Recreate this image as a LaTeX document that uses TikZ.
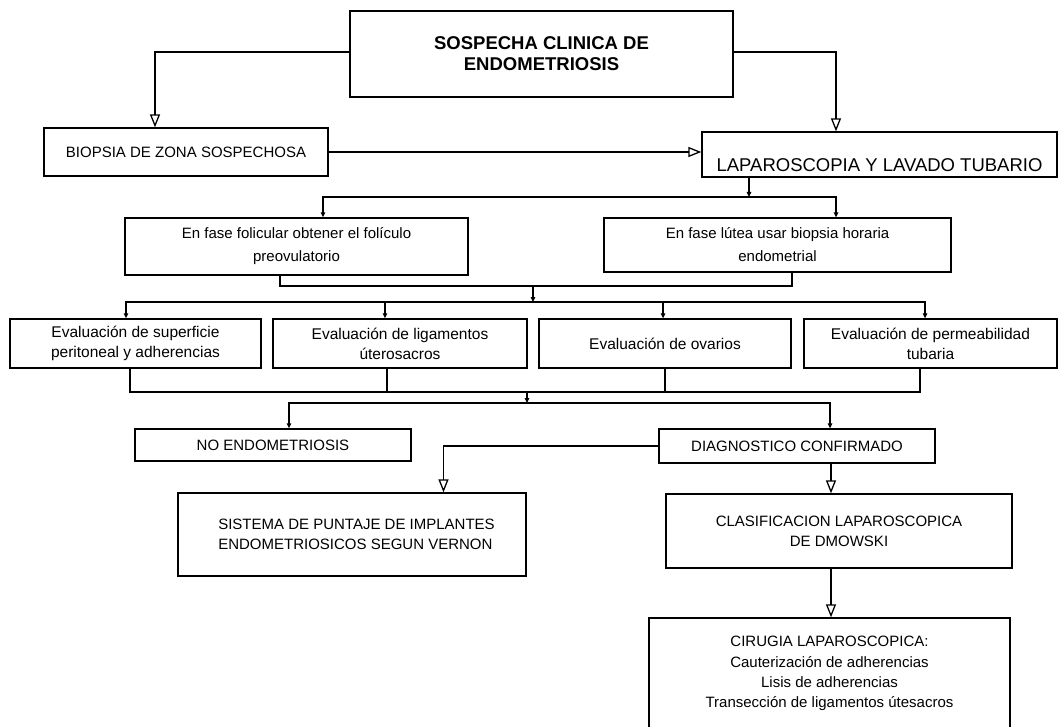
\documentclass[tikz,border=0pt]{standalone}
\usepackage{fontspec}
\setmainfont{Liberation Sans}
\usetikzlibrary{arrows.meta}
\begin{document}
\begin{tikzpicture}[x=1pt,y=-1pt,
  box/.style={draw, line width=1.3pt, inner sep=0pt, align=center, font=\fontsize{15}{20}\selectfont},
  evbox/.style={box, minimum height=49pt, font=\fontsize{15.5}{20}\selectfont},
  ln/.style={line width=1.2pt, line cap=rect},
  bigarr/.style={ln, -{Triangle[open, length=13pt, width=10pt, line width=1.3pt]}},
  smallarr/.style={ln, -{Triangle[length=5pt, width=4.5pt]}}
]
\useasboundingbox (0,0) rectangle (1059,727);

% nodes
\node[box, minimum width=383pt, minimum height=86pt, font=\bfseries\fontsize{18.5}{21}\selectfont] (title) at (541.5,54) {SOSPECHA CLINICA DE\\ENDOMETRIOSIS};
\node[box, minimum width=284pt, minimum height=48pt] (biop) at (186,152) {BIOPSIA DE ZONA SOSPECHOSA};
\node[box, minimum width=355pt, minimum height=45pt, font=\fontsize{18.5}{22}\selectfont] (lapar) at (879.5,154.5) {\raisebox{-17pt}[0pt][0pt]{LAPAROSCOPIA Y LAVADO TUBARIO}};
\node[box, minimum width=343pt, minimum height=57pt, font=\fontsize{15}{23}\selectfont] (folic) at (296.5,246.5) {En fase folicular obtener el folículo\\preovulatorio};
\node[box, minimum width=347pt, minimum height=54pt, font=\fontsize{15}{23}\selectfont] (lutea) at (777.5,245) {En fase lútea usar biopsia horaria\\endometrial};
\node[evbox, minimum width=251pt] (ev1) at (135.5,343.5) {Evaluación de superficie\\peritoneal y adherencias};
\node[evbox, minimum width=254pt] (ev2) at (400,343.5) {Evaluación de ligamentos\\úterosacros};
\node[evbox, minimum width=252pt] (ev3) at (665,343.5) {Evaluación de ovarios};
\node[evbox, minimum width=253pt] (ev4) at (930.5,343.5) {Evaluación de permeabilidad\\tubaria};
\node[box, minimum width=276pt, minimum height=32pt] (noendo) at (273,445) {NO ENDOMETRIOSIS};
\node[box, minimum width=276pt, minimum height=34pt] (diag) at (797,446) {DIAGNOSTICO CONFIRMADO};
\node[box, minimum width=348pt, minimum height=83pt, align=left] (sistema) at (352,534.5) {\hspace*{9pt}SISTEMA DE PUNTAJE DE IMPLANTES\\\hspace*{9pt}ENDOMETRIOSICOS SEGUN VERNON};
\node[box, minimum width=346pt, minimum height=74pt] (clasif) at (839,531) {CLASIFICACION LAPAROSCOPICA\\DE DMOWSKI};
\node[box, minimum width=361pt, minimum height=111pt, font=\fontsize{15}{20.3}\selectfont] (cirugia) at (829.5,673.5) {CIRUGIA LAPAROSCOPICA:\\Cauterización de adherencias\\Lisis de adherencias\\Transección de ligamentos útesacros};

% helper coordinates
\coordinate (yA) at (0,52);
\coordinate (yJ1) at (0,197);
\coordinate (yJ2) at (0,286);
\coordinate (yJ3) at (0,302);
\coordinate (yJ4) at (0,392);
\coordinate (yJ5) at (0,403);
\coordinate (xA) at (155,0);
\coordinate (xB) at (836,0);
\coordinate (xC) at (749,0);
\coordinate (xD) at (323,0);
\coordinate (xE) at (280,0);
\coordinate (xF) at (792,0);
\coordinate (xG) at (533,0);
\coordinate (xH1) at (126,0);
\coordinate (xH2) at (385,0);
\coordinate (xH3) at (663,0);
\coordinate (xH4) at (925,0);
\coordinate (xK1) at (130,0);
\coordinate (xK2) at (387,0);
\coordinate (xK3) at (665,0);
\coordinate (xK4) at (920,0);
\coordinate (xL) at (527,0);
\coordinate (xM1) at (289,0);
\coordinate (xM2) at (830,0);
\coordinate (xS) at (443.5,0);
\coordinate (xT) at (831,0);

% connectors
\draw[bigarr] (title.west |- yA) -| (biop.north -| xA);
\draw[bigarr] (title.east |- yA) -| (lapar.north -| xB);
\draw[bigarr] (biop.east) -- (biop.east -| lapar.west);

\draw[smallarr] (lapar.south -| xC) -- (xC |- yJ1);
\draw[smallarr] (xB |- yJ1) -| (folic.north -| xD);
\draw[smallarr] (xB |- yJ1) -- (lutea.north -| xB);

\draw[ln] (folic.south -| xE) |- (xF |- yJ2) -- (lutea.south -| xF);
\draw[smallarr] (xG |- yJ2) -- (xG |- yJ3);

\draw[smallarr] (xH2 |- yJ3) -| (ev1.north -| xH1);
\draw[smallarr] (xH3 |- yJ3) -| (ev4.north -| xH4);
\draw[ln] (xH2 |- yJ3) -- (xH3 |- yJ3);
\draw[smallarr] (xH2 |- yJ3) -- (ev2.north -| xH2);
\draw[smallarr] (xH3 |- yJ3) -- (ev3.north -| xH3);

\draw[ln] (ev1.south -| xK1) |- (xK4 |- yJ4) -- (ev4.south -| xK4);
\draw[ln] (ev2.south -| xK2) -- (xK2 |- yJ4);
\draw[ln] (ev3.south -| xK3) -- (xK3 |- yJ4);
\draw[smallarr] (xL |- yJ4) -- (xL |- yJ5);
\draw[smallarr] (xL |- yJ5) -| (noendo.north -| xM1);
\draw[smallarr] (xL |- yJ5) -| (diag.north -| xM2);

\draw[bigarr] (diag.west) -| (sistema.north -| xS);
\draw[bigarr] (diag.south -| xT) -- (clasif.north -| xT);
\draw[bigarr] (clasif.south -| xT) -- (cirugia.north -| xT);
\end{tikzpicture}
\end{document}
